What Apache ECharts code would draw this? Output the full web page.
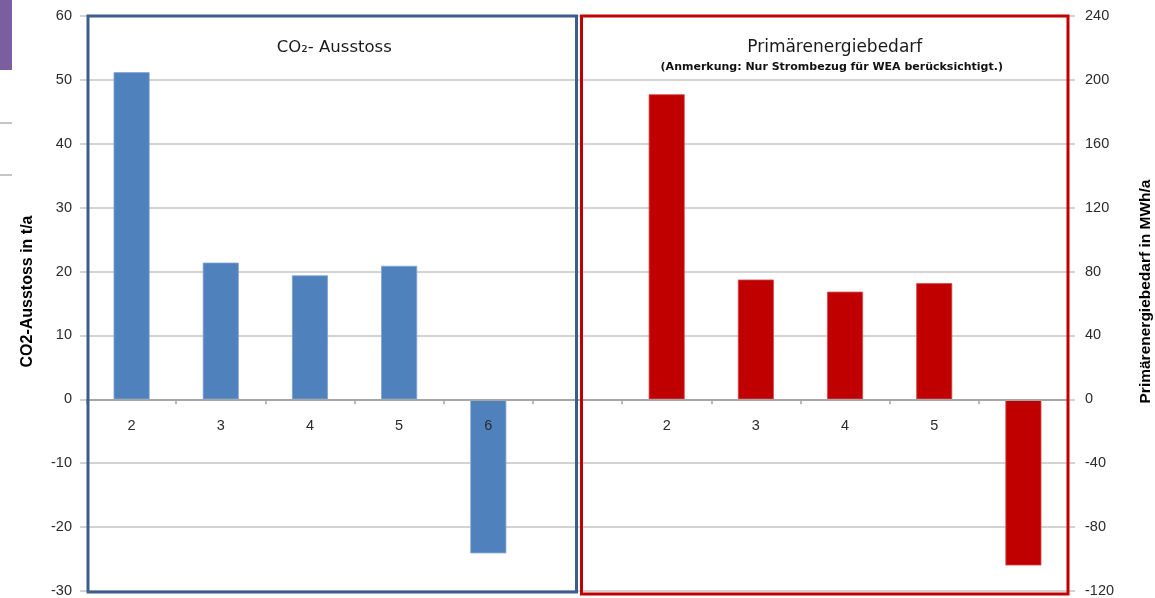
<!DOCTYPE html>
<html>
<head>
<meta charset="utf-8">
<script src="https://cdn.jsdelivr.net/npm/echarts@6/dist/echarts.min.js"></script>
<style>
  html, body { margin: 0; padding: 0; background: #ffffff; }
  #chart { width: 1155px; height: 598px; }
</style>
</head>
<body>
<div id="chart"></div>
<script>
// Category slots: five CO2 variants, a spacer, then the energy variants
const categories = ['2', '3', '4', '5', '6', '', '2', '3', '4', '5', ''];

// CO2 emissions in t/a (left axis)
const co2Values = [51.2, 21.4, 19.4, 20.9, -24.1, null, null, null, null, null, null];

// Primary energy demand in MWh/a (right axis)
const energyValues = [null, null, null, null, null, null, 191, 75, 67.4, 72.8, -104];

// Axis ranges
const leftAxisRange = { min: -30, max: 60, interval: 10 };
const rightAxisRange = { min: -120, max: 240, interval: 40 };

const BLUE = '#4f81bd';
const RED = '#c00000';
const FRAME_BLUE = '#3b5e8c';
const GRID_GRAY = '#c4c4c4';

const chart = echarts.init(document.getElementById('chart'), null, { renderer: 'canvas' });

const tickLabelStyle = { color: '#2b2b2b', fontSize: 14.5, fontFamily: 'Liberation Sans, Arial, sans-serif' };

chart.setOption({
  animation: false,
  backgroundColor: '#ffffff',
  grid: { left: 87, right: 87, top: 16, bottom: 7, containLabel: false, outerBoundsMode: 'none' },
  xAxis: {
    type: 'category',
    data: categories,
    position: 'bottom',
    z: 10,
    axisLine: { onZero: false, lineStyle: { color: '#a6a6a6', width: 2 } },
    axisTick: { show: true, inside: false, length: 5, lineStyle: { color: '#a6a6a6', width: 1.5 } },
    axisLabel: Object.assign({ margin: 19, interval: 0 }, tickLabelStyle),
    splitLine: { show: false }
  },
  yAxis: [
    {
      type: 'value',
      min: leftAxisRange.min,
      max: leftAxisRange.max,
      interval: leftAxisRange.interval,
      position: 'left',
      name: 'CO2-Ausstoss in t/a',
      nameLocation: 'middle',
      nameRotate: 90,
      nameGap: 51,
      nameTextStyle: {
        color: '#000000', fontSize: 16, fontWeight: 'bold',
        fontFamily: 'Liberation Sans, Arial, sans-serif',
        padding: [0, 0, 0, 24]
      },
      axisLine: { show: false },
      axisTick: { show: true, length: 7, lineStyle: { color: GRID_GRAY, width: 1.5 } },
      axisLabel: Object.assign({ margin: 15 }, tickLabelStyle),
      splitLine: { show: true, lineStyle: { color: GRID_GRAY, width: 1.5 } }
    },
    {
      type: 'value',
      min: rightAxisRange.min,
      max: rightAxisRange.max,
      interval: rightAxisRange.interval,
      position: 'right',
      name: 'Primärenergiebedarf in MWh/a',
      nameLocation: 'middle',
      nameRotate: 90,
      nameGap: 70,
      nameTextStyle: {
        color: '#000000', fontSize: 15.5, fontWeight: 'bold',
        fontFamily: 'Liberation Sans, Arial, sans-serif',
        padding: [0, 0, 0, 24]
      },
      axisLine: { show: false },
      axisTick: { show: true, length: 7, lineStyle: { color: GRID_GRAY, width: 1.5 } },
      axisLabel: Object.assign({ margin: 17 }, tickLabelStyle),
      splitLine: { show: false }
    }
  ],
  series: [
    {
      name: 'CO2-Ausstoss',
      type: 'bar',
      yAxisIndex: 0,
      data: co2Values,
      barWidth: 36,
      barGap: '-100%',
      itemStyle: { color: BLUE, borderColor: '#7ea3d2', borderWidth: 0.8 }
    },
    {
      name: 'Primärenergiebedarf',
      type: 'bar',
      yAxisIndex: 1,
      data: energyValues,
      barWidth: 36,
      barGap: '-100%',
      itemStyle: { color: RED, borderColor: '#d64a4a', borderWidth: 0.8 }
    }
  ]
});

// Move the category axis (line, ticks and labels) up to the zero line,
// then add the panel frames and headings from the axis scales
function drawPanels() {
  const px = i => chart.convertToPixel({ xAxisIndex: 0 }, i);
  const py = v => chart.convertToPixel({ yAxisIndex: 0 }, v);
  const band = px(1) - px(0);
  const xLeft = px(0) - band / 2;
  const xMid = px(5);
  const xRight = px(10) + band / 2;
  const yTop = py(leftAxisRange.max);
  const yBottom = py(leftAxisRange.min);
  const yZero = py(0);

  const leftCenter = (xLeft + xMid) / 2;
  const rightCenter = (xMid + xRight) / 2;
  const headFont = 'DejaVu Sans, Verdana, sans-serif';

  chart.setOption({
    xAxis: { offset: -(yBottom - yZero) },
    graphic: [
      // slide decoration at the left edge
      { type: 'rect', shape: { x: 0, y: 0, width: 12, height: 70 }, style: { fill: '#7b5ea0' }, z: 1 },
      { type: 'line', shape: { x1: 0, y1: 123, x2: 12, y2: 123 }, style: { stroke: '#b0b0b0', lineWidth: 1.5 }, z: 1 },
      { type: 'line', shape: { x1: 0, y1: 175, x2: 12, y2: 175 }, style: { stroke: '#b0b0b0', lineWidth: 1.5 }, z: 1 },
      // CO2 panel frame
      {
        type: 'rect', z: 20,
        shape: { x: xLeft + 1, y: yTop, width: xMid - 1 - (xLeft + 1), height: yBottom + 1 - yTop },
        style: { fill: 'none', stroke: FRAME_BLUE, lineWidth: 3 }
      },
      // energy panel frame
      {
        type: 'rect', z: 20,
        shape: { x: xMid + 4, y: yTop, width: xRight - (xMid + 4), height: yBottom + 3 - yTop },
        style: { fill: 'none', stroke: RED, lineWidth: 3 }
      },
      // headings
      {
        type: 'text', z: 21, x: leftCenter + 2, y: 48,
        style: { text: 'CO₂- Ausstoss', fill: '#1a1a1a', font: '16.5px ' + headFont, textAlign: 'center', textVerticalAlign: 'middle' }
      },
      {
        type: 'text', z: 21, x: rightCenter + 12, y: 48,
        style: { text: 'Primärenergiebedarf', fill: '#1a1a1a', font: '17px ' + headFont, textAlign: 'center', textVerticalAlign: 'middle' }
      },
      {
        type: 'text', z: 21, x: rightCenter + 9, y: 67,
        style: { text: '(Anmerkung: Nur Strombezug für WEA berücksichtigt.)', fill: '#111111', font: 'bold 11px ' + headFont, textAlign: 'center', textVerticalAlign: 'middle' }
      }
    ]
  });
}

drawPanels();
</script>
</body>
</html>
